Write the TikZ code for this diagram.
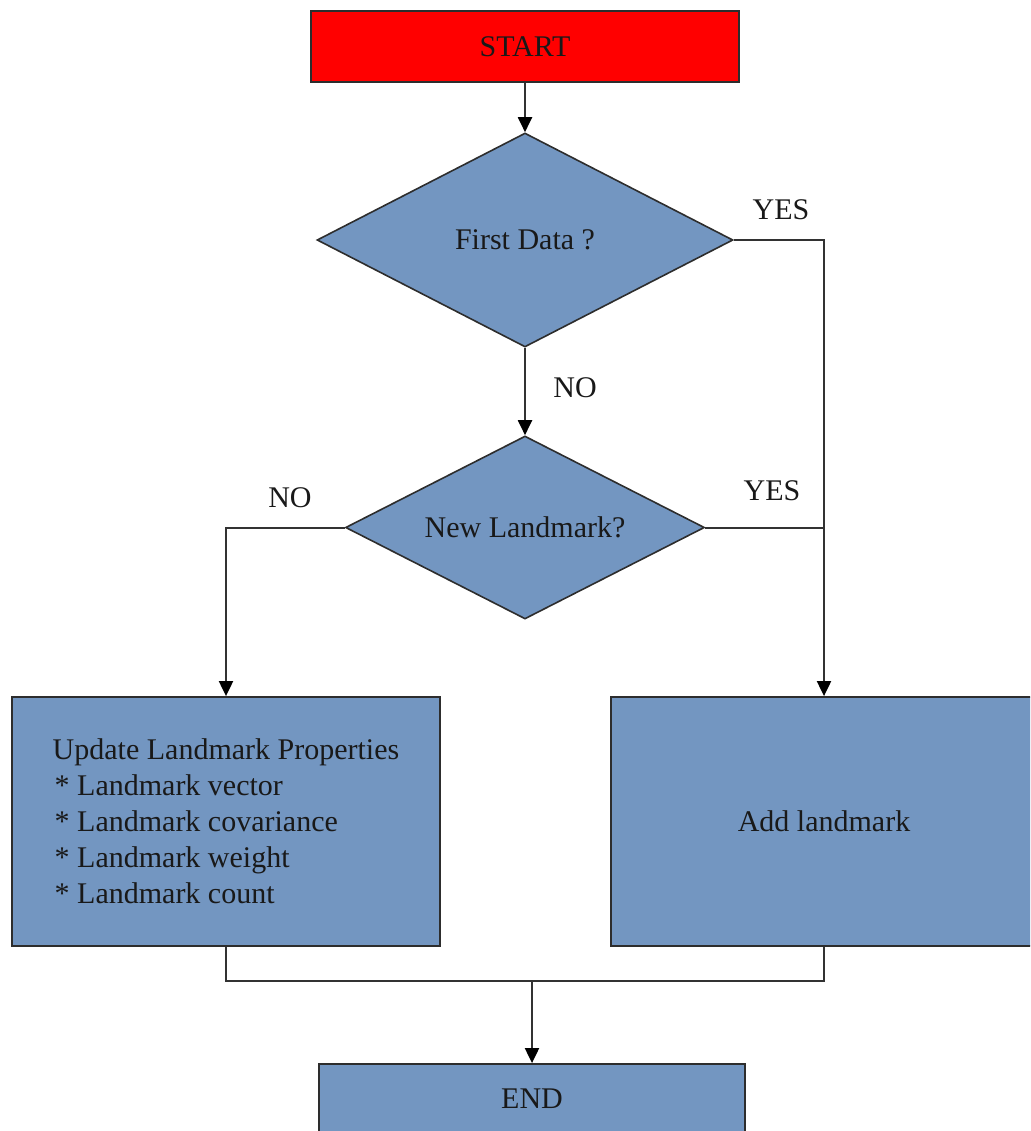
\documentclass[tikz,border=0pt]{standalone}
\usepackage{fontspec}
\setmainfont{Liberation Serif}
\usetikzlibrary{shapes.geometric,arrows.meta}
\definecolor{boxblue}{RGB}{115,150,193}
\definecolor{startred}{RGB}{255,0,0}
\definecolor{edgegray}{RGB}{45,45,45}
\definecolor{linegray}{RGB}{50,50,50}
\definecolor{ink}{RGB}{25,25,25}

\begin{document}
\begin{tikzpicture}[x=1pt,y=-1pt,
  every node/.style={font=\fontsize{30}{36}\selectfont, text=ink},
  block/.style={draw=edgegray, line width=1.8pt, fill=boxblue, inner sep=0pt},
  decision/.style={diamond, draw=edgegray, line width=1.6pt, fill=boxblue, inner sep=0pt},
  flow/.style={draw=linegray, line width=2pt},
  arrowline/.style={flow, -{Triangle[length=15pt,width=14pt,color=black]}}]

\useasboundingbox (0,0) rectangle (1030,1131);
\clip (0,0) rectangle (1030,1131);

% process boxes
\node[block, fill=startred, minimum width=428pt, minimum height=71pt] (start) at (525,46.5) {START};
\node[decision, minimum width=416pt, minimum height=214pt, aspect=1.94] (d1) at (525,240) {First Data ?};
\node[decision, minimum width=359pt, minimum height=183pt, aspect=1.96] (d2) at (525,527.5) {New Landmark?};
\node[block, minimum width=428pt, minimum height=249pt, align=left] (upd) at (226,821.5)
  {Update Landmark Properties\\
   \hspace*{2pt}* Landmark vector\\
   \hspace*{2pt}* Landmark covariance\\
   \hspace*{2pt}* Landmark weight\\
   \hspace*{2pt}* Landmark count};
\node[block, minimum width=426pt, minimum height=249pt] (add) at (824,821.5) {Add landmark};
\node[block, minimum width=426pt, minimum height=70pt] (endbox) at (532,1099) {END};

% branch labels
\node (yes1) at (781,210) {YES};
\node (no1) at (575,388) {NO};
\node (yes2) at (772,491) {YES};
\node (no2) at (290,498) {NO};

% connectors
\draw[arrowline] (start) -- (d1);
\draw[arrowline] (d1) -- (d2);
\draw[arrowline] (d1.east) -| (add.north);
\draw[flow] (d2.east) -- (d2.east -| add.north);
\draw[arrowline] (d2.west) -| (upd.north);
\path (upd.south) ++(0,34) coordinate (joinL);
\draw[flow] (upd.south) -- (joinL) -| (add.south);
\draw[arrowline] (joinL -| endbox.north) -- (endbox.north);

\end{tikzpicture}
\end{document}
